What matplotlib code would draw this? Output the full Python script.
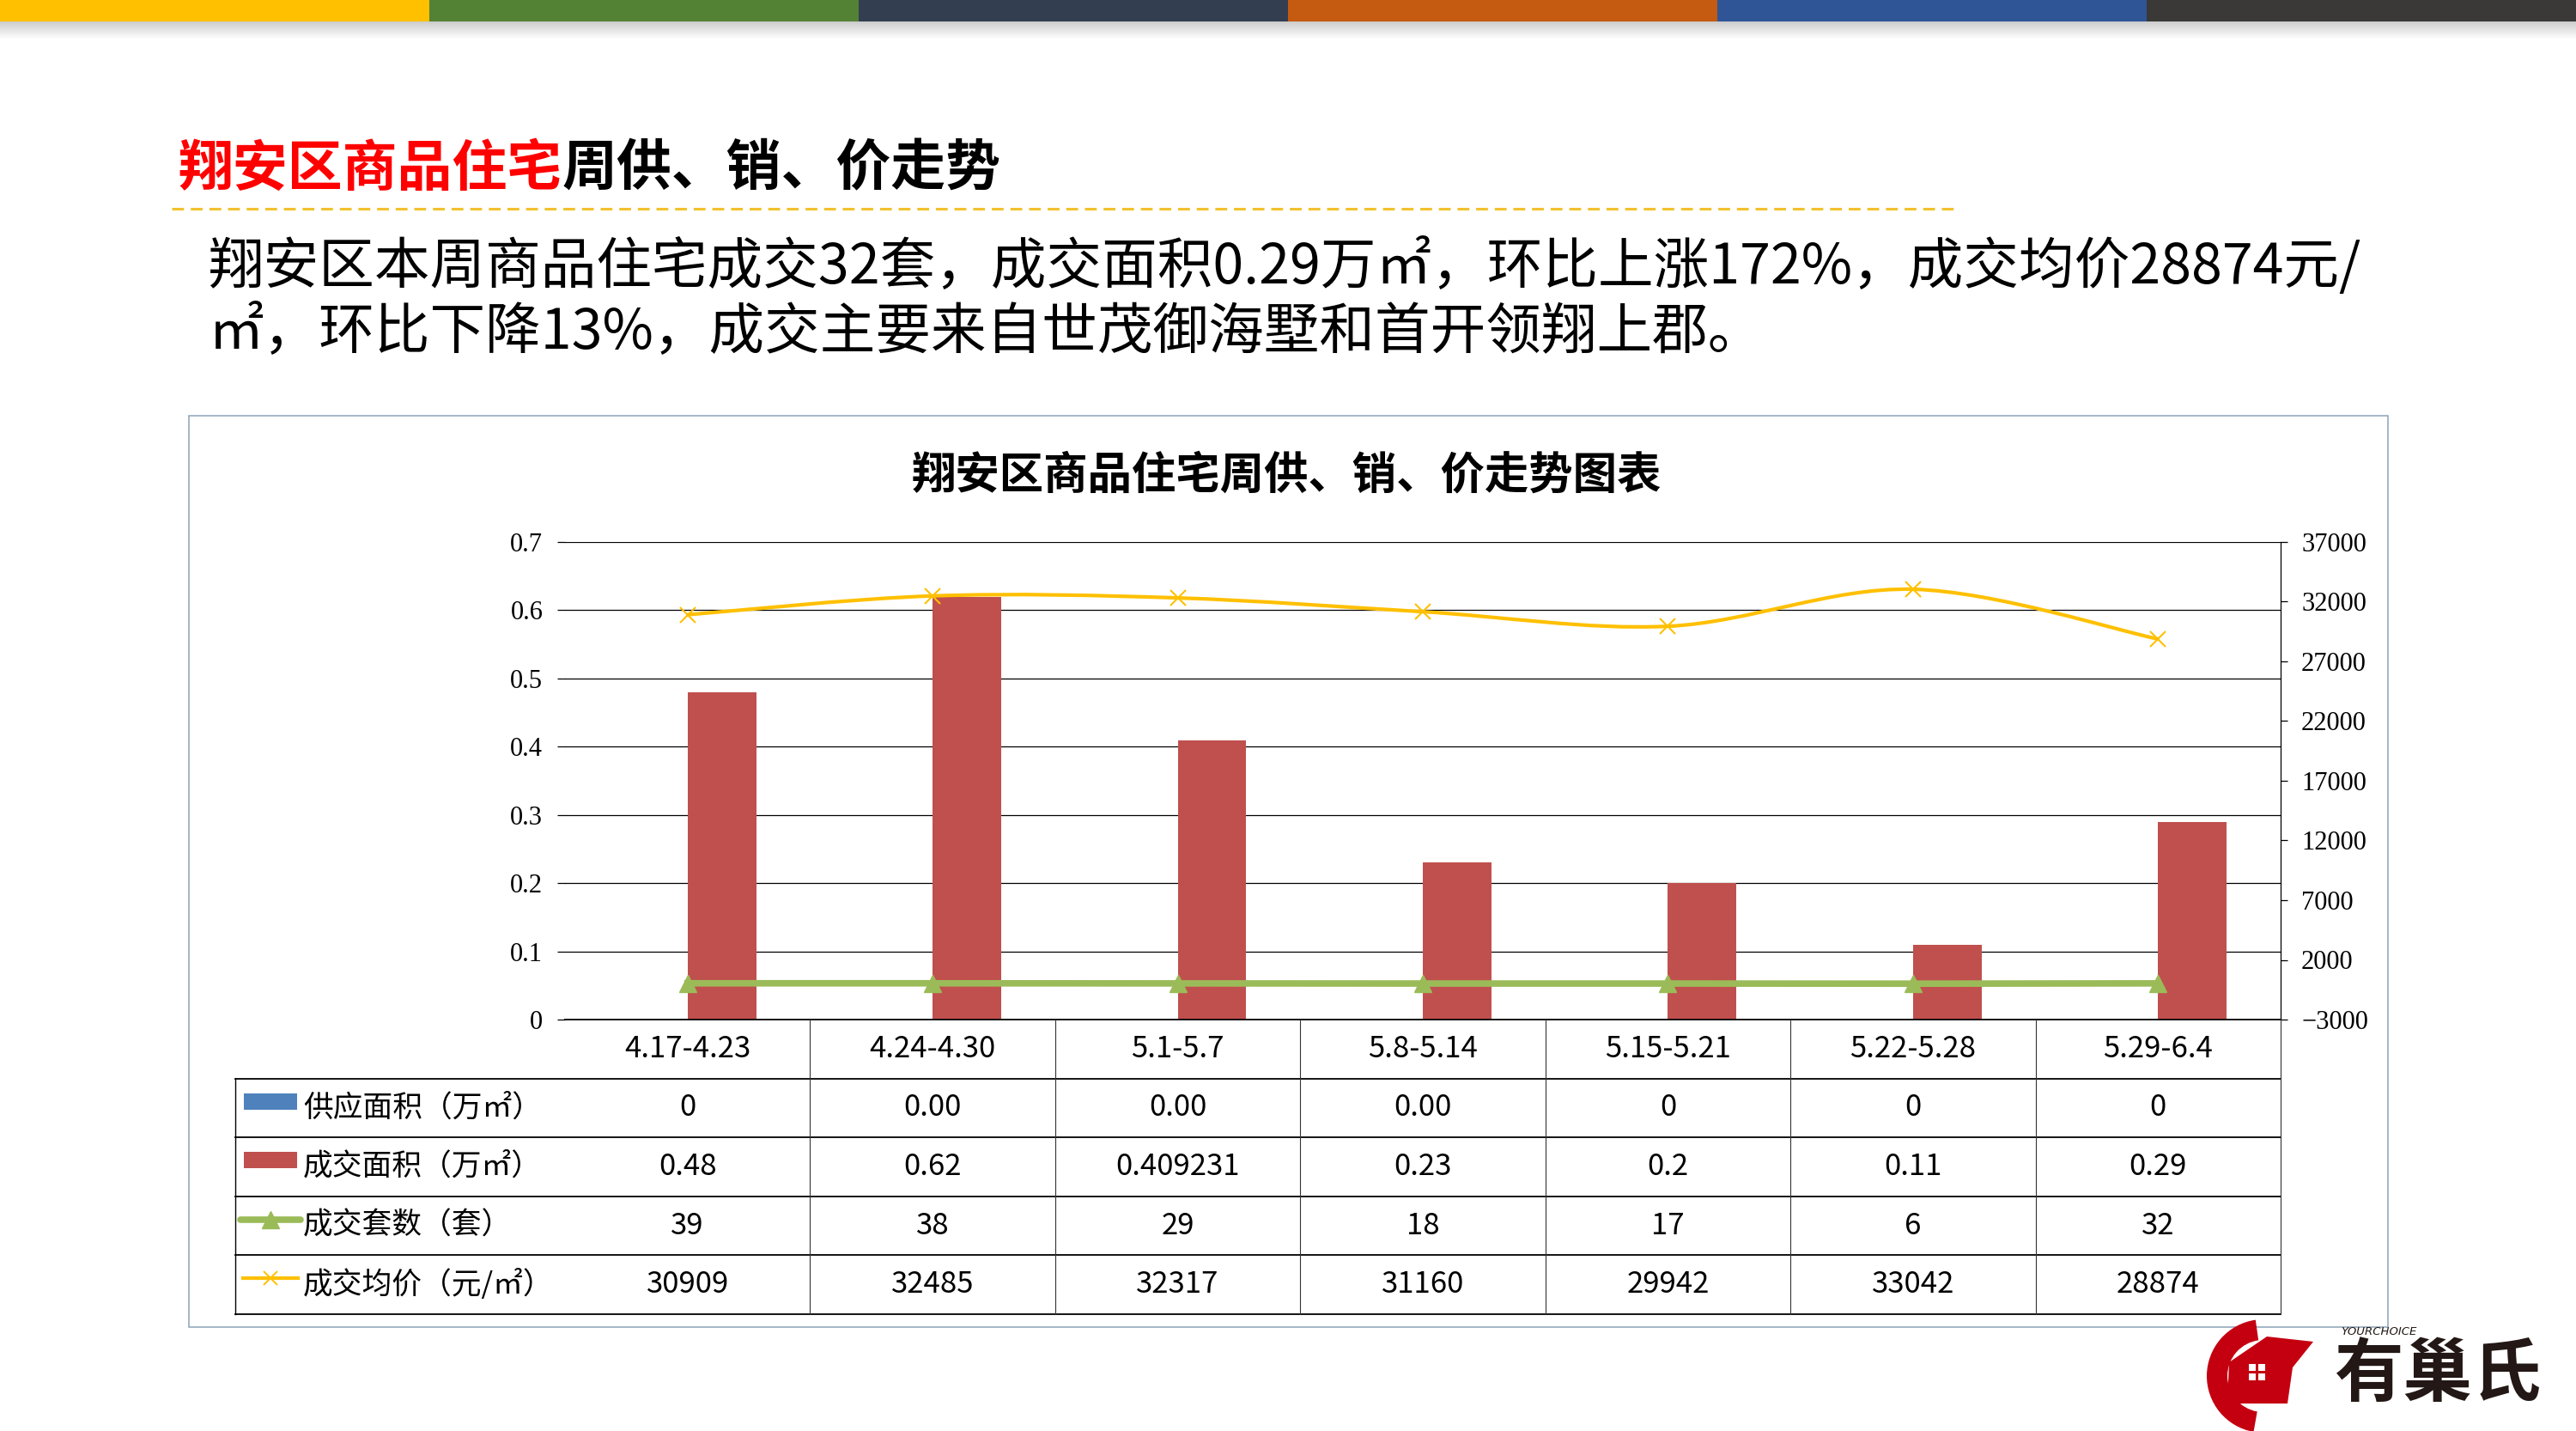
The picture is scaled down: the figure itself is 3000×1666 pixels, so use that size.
import numpy as np
import matplotlib
matplotlib.use("Agg")
import matplotlib.pyplot as plt
from matplotlib.path import Path
from matplotlib.patches import PathPatch, Rectangle, Wedge, Polygon

# ---------------- data ----------------
categories = ["4.17-4.23", "4.24-4.30", "5.1-5.7", "5.8-5.14", "5.15-5.21", "5.22-5.28", "5.29-6.4"]
supply_area = [0, 0, 0, 0, 0, 0, 0]
supply_labels = ["0", "0.00", "0.00", "0.00", "0", "0", "0"]
deal_area = [0.48, 0.62, 0.409231, 0.23, 0.2, 0.11, 0.29]
deal_units = [39, 38, 29, 18, 17, 6, 32]
avg_price = [30909, 32485, 32317, 31160, 29942, 33042, 28874]
left_ticks = [0, 0.1, 0.2, 0.3, 0.4, 0.5, 0.6, 0.7]
right_ticks = [-3000, 2000, 7000, 12000, 17000, 22000, 27000, 32000, 37000]
series_names = ["供应面积（万㎡）", "成交面积（万㎡）", "成交套数（套）", "成交均价（元/㎡）"]

page_title_red = "翔安区商品住宅"
page_title_black = "周供、销、价走势"
summary_line1 = "翔安区本周商品住宅成交32套，成交面积0.29万㎡，环比上涨172%，成交均价28874元/"
summary_line2 = "㎡，环比下降13%，成交主要来自世茂御海墅和首开领翔上郡。"
chart_title = "翔安区商品住宅周供、销、价走势图表"

band_colors = ["#FFC000", "#548235", "#333F50", "#C55A11", "#2F5597", "#3B3838"]
c_supply, c_deal, c_units, c_price = "#4F81BD", "#C0504D", "#9BBB59", "#FFC000"

plt.rcParams['font.family'] = ['Noto Sans CJK SC', 'DejaVu Sans']

W, H = 3000, 1666
fig = plt.figure(figsize=(W / 100, H / 100), dpi=100, facecolor="white")


def box(x0, y0, x1, y1):
    return [x0 / W, 1 - y1 / H, (x1 - x0) / W, (y1 - y0) / H]


# ---------------- decoration layer (pixel coords) ----------------
deco = fig.add_axes([0, 0, 1, 1])
for i, c in enumerate(band_colors):
    deco.add_patch(Rectangle((i * W / 6, 0), W / 6, 25, color=c, lw=0))
grad = np.linspace(0.80, 1.0, 30)[:, None] * np.ones((1, 2))
deco.imshow(grad, cmap="gray", vmin=0, vmax=1, extent=(0, W, 46, 25),
            aspect="auto", interpolation="bilinear")
deco.set_xlim(0, W)
deco.set_ylim(H, 0)
deco.axis("off")

t1 = deco.text(207, 197, page_title_red, color="#FF0000", fontsize=46,
               fontweight="bold", va="center", ha="left")
deco.annotate(page_title_black, xy=(1, 0.5), xycoords=t1, color="black",
              fontsize=46, fontweight="bold", va="center", ha="left")
deco.plot([200, 2278], [243, 243], color="#F2C12E", lw=2.2, dashes=(4.5, 2.6),
          solid_capstyle="butt")
deco.text(243, 311, summary_line1, fontsize=46.5, va="center", ha="left")
deco.text(243, 387, summary_line2, fontsize=46.5, va="center", ha="left")

# chart frame
deco.add_patch(Rectangle((220, 484), 2561, 1061, fill=False, ec="#8BA3B8", lw=1.1))
deco.text(1498, 553, chart_title, fontsize=37, fontweight="bold", ha="center", va="center")

# legend keys inside data table
deco.add_patch(Rectangle((284, 1273), 62, 19, color=c_supply, lw=0))
deco.add_patch(Rectangle((284, 1341), 62, 19, color=c_deal, lw=0))
deco.plot([280, 350], [1420, 1420], color=c_units, lw=5.5, solid_capstyle="round")
deco.plot([315], [1420], marker="^", ms=14, color=c_units)
deco.plot([283, 347], [1488, 1488], color=c_price, lw=3)
deco.plot([315], [1488], marker="x", ms=12, mew=1.4, color=c_price)

# logo
deco.add_patch(Wedge((2636, 1602), 66, 100, 262, width=24, color="#C40010", lw=0))
deco.add_patch(Polygon([(2594, 1634), (2596, 1586), (2640, 1556), (2694, 1562),
                        (2670, 1592), (2664, 1634)], closed=True, color="#C40010", lw=0))
for dx in (0, 11):
    for dy in (0, 11):
        deco.add_patch(Rectangle((2619 + dx, 1588 + dy), 8, 8, color="white", lw=0))
deco.text(2718, 1601, "有巢氏", fontsize=58, fontweight="heavy", color="#231815",
          ha="left", va="center")
deco.text(2726, 1551, "YOURCHOICE", fontsize=9.5, style="italic", color="#231815",
          family="DejaVu Sans", ha="left", va="center")

# ---------------- main chart ----------------
x = np.arange(len(categories))
bw = 0.28
ax = fig.add_axes(box(658, 631, 2656, 1187))
ax.set_xlim(-0.5, len(categories) - 0.5)
ax.set_ylim(0, 0.7)
ax.bar(x - bw / 2, supply_area, bw, color=c_supply, lw=0)
ax.bar(x + bw / 2, deal_area, bw, color=c_deal, lw=0)
ax.set_yticks(left_ticks)
ax.set_yticklabels([f"{v:g}" for v in left_ticks], fontfamily="Liberation Serif", fontsize=22)
ax.tick_params(axis="y", length=6.5, width=0.9, pad=12, color="black")
ax.set_xticks([])
ax.grid(axis="y", color="black", lw=0.9)
ax.set_axisbelow(True)
for s in ["left", "top", "right"]:
    ax.spines[s].set_visible(False)
ax.spines["bottom"].set_linewidth(1.3)
ax.patch.set_visible(False)

ax2 = ax.twinx()
ax2.set_ylim(-3000, 37000)
ax2.set_yticks(right_ticks)
ax2.set_yticklabels([f"{v:g}".replace("-", "\u2212") for v in right_ticks],
                    fontfamily="Liberation Serif", fontsize=22)
ax2.tick_params(axis="y", length=5.8, width=0.9, pad=11.5, color="black")
for s in ["left", "top", "bottom"]:
    ax2.spines[s].set_visible(False)
ax2.spines["right"].set_linewidth(0.9)

# deal units (secondary axis)
ax2.plot(x, deal_units, color=c_units, lw=5.5, marker="^", ms=15, zorder=3)

# smoothed average price line (Bezier through the data points)
pts = np.column_stack([x, avg_price]).astype(float)
n = len(pts)
verts = [tuple(pts[0])]
codes = [Path.MOVETO]
for i in range(n - 1):
    p_prev = pts[max(i - 1, 0)]
    p0 = pts[i]
    p1 = pts[i + 1]
    p_next = pts[min(i + 2, n - 1)]
    c1 = p0 + (p1 - p_prev) / 6.0
    c2 = p1 - (p_next - p0) / 6.0
    verts += [tuple(c1), tuple(c2), tuple(p1)]
    codes += [Path.CURVE4] * 3
ax2.add_patch(PathPatch(Path(verts, codes), fc="none", ec=c_price, lw=3.0, zorder=4))
ax2.plot(x, avg_price, ls="none", marker="x", ms=13, mew=1.5, color=c_price, zorder=5)

# ---------------- data table ----------------
cat_px = (2656 - 658) / len(categories)
xl = -0.5 - (658 - 274) / cat_px
xr = len(categories) - 0.5
tax = fig.add_axes(box(274, 1187, 2656, 1530))
tax.set_xlim(xl, xr)
tax.set_ylim(5, 0)
tax.axis("off")
for r in range(1, 6):
    tax.plot([xl, xr], [r, r], color="black", lw=1.3, clip_on=False)
for k in range(len(categories)):
    tax.plot([k + 0.5, k + 0.5], [0, 5], color="#333333", lw=0.8, clip_on=False)
tax.plot([xl, xl], [1, 5], color="black", lw=1.0, clip_on=False)

rows = [supply_labels, [str(v) for v in deal_area], [str(v) for v in deal_units],
        [str(v) for v in avg_price]]
for i, c in enumerate(categories):
    tax.text(i, 0.5, c, ha="center", va="center", fontsize=25)
    for r, vals in enumerate(rows):
        tax.text(i, r + 1.5, vals[i], ha="center", va="center", fontsize=25)
lab_x = xl + (353 - 274) / cat_px
for r, name in enumerate(series_names):
    tax.text(lab_x, r + 1.5, name, ha="left", va="center", fontsize=25)

fig.savefig("out.png", dpi=100, facecolor="white")
